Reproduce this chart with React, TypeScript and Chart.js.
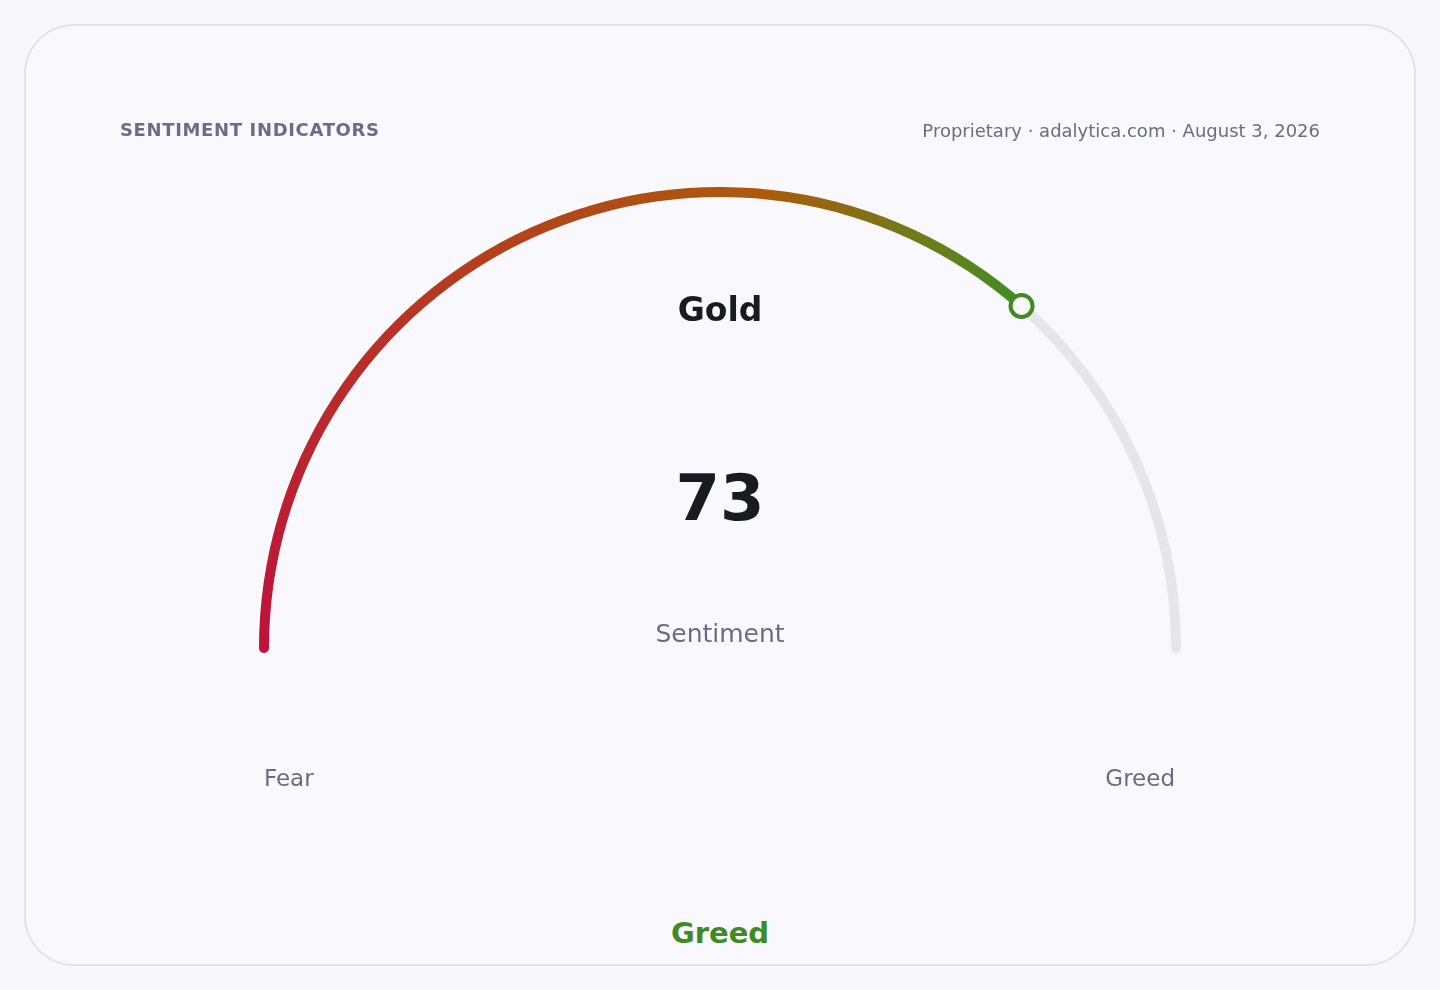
import React, { useEffect, useRef } from "react";
import { Chart, registerables } from "chart.js";

Chart.register(...registerables);

const asset = "Gold";
const sentimentValue = 73;
const gaugeMax = 100;
const gaugeLabels = ["Fear", "Greed"];
const statusLabel = "Greed";
const headerTitle = "SENTIMENT INDICATORS";
const headerMeta = "Proprietary · adalytica.com · August 3, 2026";
const gradientStops = [
  { at: 0, color: "#be123c" },
  { at: 0.265, color: "#ad5a0b" },
  { at: 0.33, color: "#66801c" },
  { at: 0.365, color: "#3f8c24" },
];

const FONT = "'DejaVu Sans', sans-serif";
const OUTER_R = 461;
const INNER_R = 451;
const GREEN = "#3f8a25";
const TRACK = "#e6e6ea";
const BG = "#f9f9fd";

export default function App() {
  const canvasRef = useRef<HTMLCanvasElement | null>(null);

  useEffect(() => {
    document.body.style.margin = "0";
    document.body.style.background = "#f8f8fc";
    const canvas = canvasRef.current;
    if (!canvas) return;

    const capsPlugin = {
      id: "gaugeCaps",
      beforeDatasetsDraw(chart: any) {
        const meta = chart.getDatasetMeta(0);
        const first: any = meta.data[0];
        const last: any = meta.data[meta.data.length - 1];
        if (!first || !last) return;
        const p = first.getProps(["x", "y", "startAngle", "outerRadius", "innerRadius"], true);
        const q = last.getProps(["endAngle"], true);
        const r = (p.outerRadius + p.innerRadius) / 2;
        const w = (p.outerRadius - p.innerRadius) / 2;
        const ctx = chart.ctx;
        ctx.save();
        ctx.beginPath();
        ctx.arc(p.x + Math.cos(p.startAngle) * r, p.y + Math.sin(p.startAngle) * r, w, 0, Math.PI * 2);
        ctx.fillStyle = gradientStops[0].color;
        ctx.fill();
        ctx.beginPath();
        ctx.arc(p.x + Math.cos(q.endAngle) * r, p.y + Math.sin(q.endAngle) * r, w, 0, Math.PI * 2);
        ctx.fillStyle = TRACK;
        ctx.fill();
        ctx.restore();
      },
    };

    const markerPlugin = {
      id: "valueMarker",
      afterDatasetsDraw(chart: any) {
        const meta = chart.getDatasetMeta(0);
        const arc: any = meta.data[0];
        if (!arc) return;
        const { x, y, endAngle, outerRadius, innerRadius } = arc.getProps(
          ["x", "y", "endAngle", "outerRadius", "innerRadius"],
          true
        );
        const r = (outerRadius + innerRadius) / 2;
        const px = x + Math.cos(endAngle) * r;
        const py = y + Math.sin(endAngle) * r;
        const ctx = chart.ctx;
        ctx.save();
        ctx.beginPath();
        ctx.arc(px, py, 11, 0, Math.PI * 2);
        ctx.fillStyle = BG;
        ctx.fill();
        ctx.lineWidth = 4;
        ctx.strokeStyle = GREEN;
        ctx.stroke();
        ctx.restore();
      },
    };

    const chart = new Chart(canvas, {
      type: "doughnut",
      data: {
        labels: ["Value", "Rest"],
        datasets: [
          {
            data: [sentimentValue, gaugeMax - sentimentValue],
            backgroundColor: (context: any) => {
              if (context.dataIndex !== 0) return TRACK;
              const ch = context.chart;
              const ca = ch.chartArea;
              if (!ca) return gradientStops[0].color;
              const cx = (ca.left + ca.right) / 2;
              const cy = (ca.top + ca.bottom) / 2 + OUTER_R * 0.5;
              const g = ch.ctx.createConicGradient(Math.PI, cx, cy);
              gradientStops.forEach((s) => g.addColorStop(s.at, s.color));
              g.addColorStop(1, gradientStops[gradientStops.length - 1].color);
              return g;
            },
            borderWidth: 0,
            borderRadius: 0,
            hoverOffset: 0,
          },
        ],
      },
      options: {
        animation: false,
        responsive: false,
        maintainAspectRatio: false,
        rotation: -90,
        circumference: 180,
        radius: OUTER_R,
        cutout: `${(INNER_R / OUTER_R) * 100}%`,
        layout: { padding: 0 },
        events: [],
        plugins: {
          legend: { display: false },
          tooltip: { enabled: false },
          title: { display: false },
        },
      } as any,
      plugins: [capsPlugin, markerPlugin],
    });
    return () => chart.destroy();
  }, []);

  const abs = (extra: React.CSSProperties): React.CSSProperties => ({
    position: "absolute",
    lineHeight: 1,
    whiteSpace: "nowrap",
    fontFamily: FONT,
    ...extra,
  });

  return (
    <div
      style={{
        position: "relative",
        width: 1440,
        height: 990,
        overflow: "hidden",
        background: "#f8f8fc",
        fontFamily: FONT,
      }}
    >
      <div
        style={{
          position: "absolute",
          left: 24,
          top: 24,
          width: 1392,
          height: 942,
          boxSizing: "border-box",
          border: "2px solid #e2e2ee",
          borderRadius: 50,
          background: BG,
        }}
      />
      <canvas
        ref={canvasRef}
        width={1440}
        height={835}
        style={{ position: "absolute", left: 0, top: 0, width: 1440, height: 835 }}
      />
      <div
        style={abs({
          left: 120,
          top: 130,
          transform: "translateY(-50%)",
          fontSize: 18,
          fontWeight: 700,
          letterSpacing: 0.65,
          color: "#6c6c8a",
        })}
      >
        {headerTitle}
      </div>
      <div
        style={abs({
          right: 120,
          top: 131,
          transform: "translateY(-50%)",
          fontSize: 18,
          color: "#6b6b82",
        })}
      >
        {headerMeta}
      </div>
      <div
        style={abs({
          left: 720,
          top: 309,
          transform: "translate(-50%, -50%)",
          fontSize: 33,
          fontWeight: 700,
          color: "#1a1a22",
        })}
      >
        {asset}
      </div>
      <div
        style={abs({
          left: 720,
          top: 498,
          transform: "translate(-50%, -50%)",
          fontSize: 64,
          fontWeight: 700,
          color: "#1a1a22",
        })}
      >
        {sentimentValue}
      </div>
      <div
        style={abs({
          left: 720,
          top: 633,
          transform: "translate(-50%, -50%)",
          fontSize: 25,
          color: "#6b6b85",
        })}
      >
        Sentiment
      </div>
      <div
        style={abs({
          left: 264,
          top: 778,
          transform: "translateY(-50%)",
          fontSize: 23,
          color: "#6b6b85",
        })}
      >
        {gaugeLabels[0]}
      </div>
      <div
        style={abs({
          right: 1440 - 1175,
          top: 778,
          transform: "translateY(-50%)",
          fontSize: 23,
          color: "#6b6b85",
        })}
      >
        {gaugeLabels[1]}
      </div>
      <div
        style={abs({
          left: 720,
          top: 933,
          transform: "translate(-50%, -50%)",
          fontSize: 29,
          fontWeight: 700,
          color: GREEN,
        })}
      >
        {statusLabel}
      </div>
    </div>
  );
}
